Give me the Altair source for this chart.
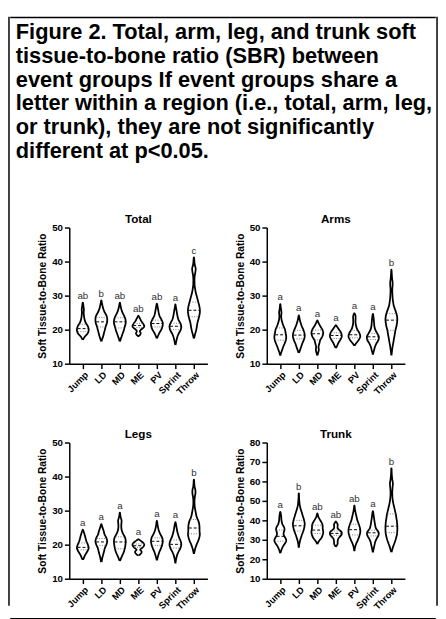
import json
import numpy as np
import pandas as pd
import altair as alt

GROUPS = ["Jump", "LD", "MD", "ME", "PV", "Sprint", "Throw"]

CAPTION = [
    "Figure 2. Total, arm, leg, and trunk soft",
    "tissue-to-bone ratio (SBR) between",
    "event groups If event groups share a",
    "letter within a region (i.e., total, arm, leg,",
    "or trunk), they are not significantly",
    "different at p<0.05.",
]

# violin outlines: (values, relative half-widths)
TOTAL_SHAPE = {
    "Jump": ([17, 18, 19, 20, 21, 22, 23, 24, 25, 26, 27, 27.9],
             [0.02, 0.35, 0.85, 1.0, 0.85, 0.5, 0.3, 0.2, 0.15, 0.18, 0.1, 0.02]),
    "LD": ([16.5, 17, 18, 19, 20, 21, 22, 23, 24, 25, 26, 27, 28, 28.6],
           [0.02, 0.1, 0.3, 0.45, 0.6, 0.75, 0.95, 1.0, 0.9, 0.6, 0.35, 0.2, 0.08, 0.02]),
    "MD": ([16.5, 17, 18, 19, 20, 21, 22, 23, 24, 25, 26, 27, 27.9],
           [0.02, 0.1, 0.3, 0.5, 0.7, 0.85, 1.0, 0.95, 0.75, 0.45, 0.25, 0.12, 0.02]),
    "ME": ([18.1, 18.5, 19, 19.5, 20, 20.5, 21, 21.5, 22, 22.5, 23, 23.5, 24.1],
           [0.02, 0.3, 0.4, 0.25, 0.45, 0.8, 1.0, 0.9, 0.7, 0.5, 0.35, 0.2, 0.02]),
    "PV": ([17.4, 18, 19, 20, 21, 22, 23, 24, 25, 26, 27, 27.6],
           [0.02, 0.15, 0.4, 0.75, 0.95, 1.0, 0.75, 0.45, 0.3, 0.2, 0.1, 0.02]),
    "Sprint": ([15.5, 16, 17, 18, 19, 20, 21, 22, 23, 24, 25, 26, 27, 27.4],
               [0.02, 0.08, 0.2, 0.35, 0.6, 0.9, 1.0, 0.8, 0.5, 0.35, 0.25, 0.15, 0.05, 0.02]),
    "Throw": ([17.4, 18, 19, 20, 21, 22, 23, 24, 25, 26, 27, 28, 29, 30, 31, 32, 33, 34, 35, 36, 37, 38, 39, 40, 41.2],
              [0.02, 0.1, 0.25, 0.4, 0.5, 0.6, 0.75, 0.9, 1.0, 1.0, 0.9, 0.75, 0.6, 0.45, 0.3, 0.2, 0.12, 0.1, 0.1, 0.15, 0.25, 0.3, 0.15, 0.08, 0.02]),
}
TOTAL_QUART = {"Jump": (19.4, 20.3, 21.6), "LD": (20.8, 22.3, 23.6), "MD": (20.5, 22.3, 23.5),
               "ME": (20.6, 21.2, 21.8), "PV": (20.8, 21.8, 22.8), "Sprint": (20.0, 21.0, 21.9),
               "Throw": (23.8, 25.7, 28.1)}
TOTAL_LETTERS = ["ab", "b", "ab", "ab", "ab", "a", "c"]

ARMS_SHAPE = {
    "Jump": ([12.4, 13, 14, 15, 16, 17, 18, 19, 20, 21, 22, 23, 24, 25, 26, 27, 27.5],
             [0.02, 0.1, 0.3, 0.5, 0.75, 0.95, 1.0, 0.9, 0.8, 0.55, 0.35, 0.2, 0.15, 0.2, 0.12, 0.05, 0.02]),
    "LD": ([13.2, 14, 15, 16, 17, 18, 19, 20, 21, 22, 23, 24.2],
           [0.02, 0.2, 0.4, 0.6, 0.85, 1.0, 0.95, 0.75, 0.5, 0.3, 0.15, 0.02]),
    "MD": ([12.4, 13, 14, 15, 16, 17, 18, 19, 20, 21, 22, 22.7],
           [0.02, 0.1, 0.25, 0.2, 0.35, 0.5, 0.85, 1.0, 0.85, 0.5, 0.2, 0.02]),
    "ME": ([14.6, 15, 16, 17, 18, 19, 20, 21, 21.3],
           [0.02, 0.15, 0.4, 0.75, 1.0, 0.9, 0.55, 0.15, 0.02]),
    "PV": ([15.3, 16, 17, 18, 19, 20, 21, 22, 23, 24, 24.8],
           [0.02, 0.3, 0.75, 1.0, 0.85, 0.5, 0.3, 0.2, 0.2, 0.2, 0.02]),
    "Sprint": ([12.7, 13, 14, 15, 16, 17, 18, 19, 20, 21, 22, 23, 24, 24.6],
               [0.02, 0.05, 0.2, 0.35, 0.6, 0.95, 1.0, 0.7, 0.4, 0.25, 0.2, 0.15, 0.08, 0.02]),
    "Throw": ([12.4, 13, 14, 15, 16, 17, 18, 19, 20, 21, 22, 23, 24, 25, 26, 27, 28, 29, 30, 31, 32, 33, 34, 35, 36, 37, 37.6],
              [0.02, 0.05, 0.12, 0.2, 0.3, 0.4, 0.5, 0.6, 0.7, 0.85, 0.95, 1.0, 0.95, 0.8, 0.6, 0.4, 0.3, 0.22, 0.18, 0.15, 0.15, 0.2, 0.2, 0.12, 0.08, 0.04, 0.01]),
}
ARMS_QUART = {"Jump": (16.9, 18.5, 20.5), "LD": (17.3, 18.4, 19.8), "MD": (17.0, 18.8, 19.9),
              "ME": (17.4, 18.3, 19.1), "PV": (17.6, 18.5, 19.8), "Sprint": (17.1, 17.9, 18.9),
              "Throw": (19.8, 22.8, 24.7)}
ARMS_LETTERS = ["a", "a", "a", "a", "a", "a", "b"]

LEGS_SHAPE = {
    "Jump": ([15.6, 16, 17, 18, 19, 20, 21, 22, 23, 24, 24.4],
             [0.02, 0.15, 0.4, 0.75, 1.0, 0.85, 0.6, 0.45, 0.3, 0.1, 0.02]),
    "LD": ([14.9, 15, 16, 17, 18, 19, 20, 21, 22, 23, 24, 25, 26],
           [0.02, 0.05, 0.15, 0.3, 0.45, 0.6, 0.85, 1.0, 0.85, 0.55, 0.4, 0.2, 0.02]),
    "MD": ([15.2, 16, 17, 18, 19, 20, 21, 22, 23, 24, 25, 26, 27, 28, 29, 29.4],
           [0.02, 0.2, 0.45, 0.7, 0.85, 0.95, 1.0, 0.9, 0.6, 0.35, 0.25, 0.25, 0.3, 0.15, 0.05, 0.02]),
    "ME": ([16.8, 17, 17.5, 18, 18.5, 19, 19.5, 20, 20.5, 21, 21.6],
           [0.02, 0.2, 0.5, 0.55, 0.3, 0.6, 0.9, 1.0, 0.85, 0.5, 0.02]),
    "PV": ([15.4, 16, 17, 18, 19, 20, 21, 22, 23, 24, 25, 26, 27],
           [0.02, 0.1, 0.25, 0.45, 0.7, 0.9, 1.0, 0.9, 0.6, 0.35, 0.2, 0.1, 0.02]),
    "Sprint": ([14.5, 15, 16, 17, 18, 19, 20, 21, 22, 23, 24, 25, 26, 26.6],
               [0.02, 0.05, 0.15, 0.3, 0.55, 0.85, 1.0, 0.9, 0.65, 0.45, 0.3, 0.2, 0.1, 0.02]),
    "Throw": ([17.3, 18, 19, 20, 21, 22, 23, 24, 25, 26, 27, 28, 29, 30, 31, 32, 33, 34, 35, 36, 37, 38, 39.1],
              [0.02, 0.1, 0.25, 0.45, 0.7, 0.9, 1.0, 0.95, 0.95, 0.9, 0.75, 0.5, 0.35, 0.25, 0.15, 0.1, 0.1, 0.15, 0.25, 0.25, 0.12, 0.06, 0.02]),
}
LEGS_QUART = {"Jump": (18.5, 19.2, 20.5), "LD": (19.8, 20.8, 21.8), "MD": (18.8, 20.8, 22.3),
              "ME": (19.2, 19.7, 20.2), "PV": (19.8, 21.0, 22.0), "Sprint": (19.0, 20.1, 21.4),
              "Throw": (23.2, 24.9, 27.4)}
LEGS_LETTERS = ["a", "a", "a", "a", "a", "a", "b"]

TRUNK_SHAPE = {
    "Jump": ([23.1, 24, 26, 28, 29, 30, 31, 32, 33, 34, 35, 36, 37, 38, 40, 42, 44.3],
             [0.02, 0.1, 0.35, 0.75, 0.95, 1.0, 0.85, 0.65, 0.55, 0.6, 0.7, 0.7, 0.55, 0.35, 0.2, 0.15, 0.02]),
    "LD": ([26, 28, 30, 32, 34, 36, 38, 40, 42, 44, 46, 48, 50, 52, 53.8],
           [0.02, 0.1, 0.25, 0.45, 0.7, 0.9, 1.0, 0.9, 0.7, 0.5, 0.3, 0.15, 0.08, 0.04, 0.02]),
    "MD": ([27.7, 29, 30, 31, 32, 33, 34, 35, 36, 37, 38, 39, 40, 41, 42, 43.5],
           [0.02, 0.2, 0.45, 0.7, 0.85, 0.95, 1.0, 0.95, 0.9, 0.9, 0.85, 0.7, 0.5, 0.3, 0.15, 0.02]),
    "ME": ([26.4, 27, 28, 29, 30, 31, 32, 33, 34, 35, 36, 37, 38, 39, 39.4],
           [0.02, 0.15, 0.3, 0.3, 0.35, 0.5, 0.8, 1.0, 0.95, 0.6, 0.3, 0.3, 0.3, 0.1, 0.02]),
    "PV": ([24.1, 26, 28, 30, 32, 34, 36, 38, 40, 42, 44, 46, 47.6],
           [0.02, 0.1, 0.3, 0.6, 0.85, 1.0, 0.95, 0.75, 0.5, 0.35, 0.2, 0.08, 0.02]),
    "Sprint": ([23.6, 25, 27, 29, 31, 32, 33, 34, 35, 36, 38, 40, 42, 44.7],
               [0.02, 0.1, 0.25, 0.4, 0.7, 0.9, 1.0, 0.95, 0.7, 0.5, 0.35, 0.25, 0.15, 0.02]),
    "Throw": ([23.6, 25, 27, 29, 31, 33, 35, 37, 39, 41, 43, 45, 47, 49, 51, 53, 55, 57, 59, 61, 63, 65, 66.7],
              [0.02, 0.15, 0.35, 0.6, 0.8, 0.95, 1.0, 1.0, 0.95, 0.85, 0.75, 0.6, 0.45, 0.3, 0.2, 0.15, 0.15, 0.2, 0.25, 0.15, 0.08, 0.04, 0.02]),
}
TRUNK_QUART = {"Jump": (29.3, 31.8, 35.0), "LD": (34.5, 37.2, 40.0), "MD": (33.2, 35.0, 37.5),
               "ME": (32.3, 33.3, 34.5), "PV": (32.5, 35.2, 38.0), "Sprint": (32.0, 33.6, 35.0),
               "Throw": (33.7, 37.0, 43.3)}
TRUNK_LETTERS = ["a", "b", "ab", "ab", "ab", "a", "b"]

HALF = 0.32  # max half width of a violin, in category units
FONT = "Liberation Sans"
LABEL_EXPR = json.dumps(GROUPS).replace('"', "'") + "[datum.value]"


def panel(title, shape, quart, letters, ymax, ticks):
    orows, qrows = [], []
    for i, g in enumerate(GROUPS):
        ys, ws = shape[g]
        n = len(ys)
        # closed outline: up the right side, then down the left side
        for k in range(n):
            orows.append(dict(group=g, v=ys[k], x=i + ws[k] * HALF, k=k))
        for k in range(n - 1, -1, -1):
            orows.append(dict(group=g, v=ys[k], x=i - ws[k] * HALF, k=2 * n - 1 - k))
        for kind, q in zip(["q1", "med", "q3"], quart[g]):
            w = float(np.interp(q, ys, ws)) * 0.9
            qrows.append(dict(group=g, v=q, lo=i - w * HALF, hi=i + w * HALF, kind=kind))
    odf = pd.DataFrame(orows)
    qdf = pd.DataFrame(qrows)
    ldf = pd.DataFrame(dict(group=GROUPS, idx=list(range(7)),
                            top=[max(shape[g][0]) for g in GROUPS], letter=letters))

    xscale = alt.Scale(domain=[-0.73, 6.73], nice=False, zero=False)
    yscale = alt.Scale(domain=[10, ymax], nice=False, zero=False)
    xaxis = alt.Axis(values=list(range(7)), labelExpr=LABEL_EXPR, title=None, labelAngle=-45,
                     labelFontSize=9.5, labelFontWeight="bold", tickSize=5, labelPadding=1,
                     labelOverlap=False)
    yaxis = alt.Axis(values=ticks, title="Soft Tissue-to-Bone Ratio", labelFontSize=10,
                     labelFontWeight="bold", titleFontSize=10.5, titleFontWeight="bold",
                     tickSize=5, labelPadding=2, titlePadding=4, labelOverlap=False)

    def xenc(f):
        return alt.X(f, type="quantitative", scale=xscale, axis=xaxis)

    def yenc(f):
        return alt.Y(f, type="quantitative", scale=yscale, axis=yaxis)

    outline = alt.Chart(odf).mark_line(interpolate="catmull-rom", color="black",
                                       strokeWidth=1.8).encode(
        x=xenc("x"), y=yenc("v"), detail="group:N", order="k:Q")
    med = alt.Chart(qdf).transform_filter(alt.datum.kind == "med").mark_rule(
        color="black", strokeWidth=1, strokeDash=[3, 2]).encode(y=yenc("v"), x=xenc("lo"), x2="hi")
    qs = alt.Chart(qdf).transform_filter(alt.datum.kind != "med").mark_rule(
        color="#777", strokeWidth=1, strokeDash=[1, 1.5]).encode(y=yenc("v"), x=xenc("lo"), x2="hi")
    txt = alt.Chart(ldf).mark_text(baseline="bottom", dy=-2, fontSize=10, color="#333").encode(
        x=xenc("idx"), y=yenc("top"), text="letter:N")
    return alt.layer(outline, med, qs, txt).properties(
        width=142, height=140,
        title=alt.TitleParams(title, fontSize=12, fontWeight="bold", anchor="middle", offset=-3))


total = panel("Total", TOTAL_SHAPE, TOTAL_QUART, TOTAL_LETTERS, 50, [10, 20, 30, 40, 50])
arms = panel("Arms", ARMS_SHAPE, ARMS_QUART, ARMS_LETTERS, 50, [10, 20, 30, 40, 50])
legs = panel("Legs", LEGS_SHAPE, LEGS_QUART, LEGS_LETTERS, 50, [10, 20, 30, 40, 50])
trunk = panel("Trunk", TRUNK_SHAPE, TRUNK_QUART, TRUNK_LETTERS, 80, [10, 20, 30, 40, 50, 60, 70, 80])

row1 = alt.hconcat(total, arms, spacing=28)
row2 = alt.hconcat(legs, trunk, spacing=28)
content = alt.vconcat(row1, row2, spacing=33).properties(
    title=alt.TitleParams(CAPTION, anchor="start", frame="group", fontSize=22.4, fontWeight="bold",
                          lineHeight=24.5, offset=52, dx=-55, color="black"))

# frame pieces: empty, nearly zero-size views whose outline draws the figure border
dummy = pd.DataFrame({"a": [0]})
FRAME = alt.ViewBackground(stroke="black", strokeWidth=1.5)
THIN = 0.01


def blank(w, h, view=None):
    c = alt.Chart(dummy).mark_point(opacity=0, size=0).encode(x=alt.value(0), y=alt.value(0))
    if view is not None:
        return c.properties(width=w, height=h, view=view)
    return c.properties(width=w, height=h)


spacer = blank(1, 1)
inner = alt.hconcat(spacer, content, spacing=4)
lower = alt.vconcat(inner, blank(436, THIN, FRAME), spacing=7)
middle = alt.vconcat(blank(436, THIN, FRAME), lower, spacing=3)
chart = alt.hconcat(blank(THIN, 604, FRAME), middle, blank(THIN, 604, FRAME), spacing=0).properties(
    padding=0).configure(font=FONT).configure_view(strokeWidth=0).configure_axis(
    domainColor="black", tickColor="black", labelColor="black", titleColor="black",
    grid=False, domainWidth=1.5, tickWidth=1.5)

chart.save("out.html", embed_options={"renderer": "svg", "actions": False})
